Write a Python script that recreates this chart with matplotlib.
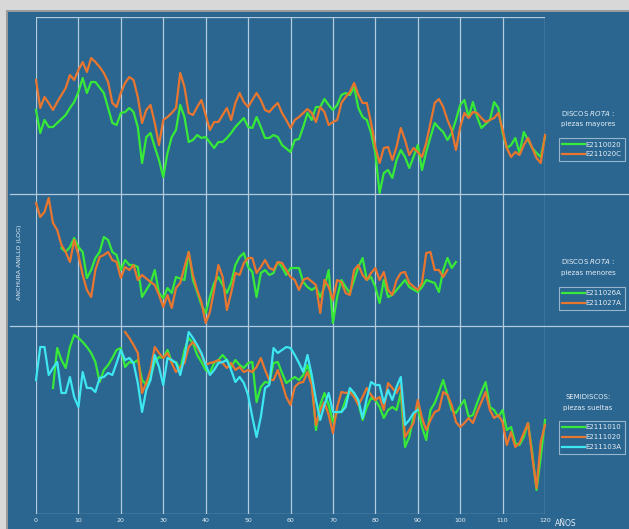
import matplotlib.pyplot as plt
from matplotlib.lines import Line2D
from matplotlib.patches import Rectangle

BG = "#2a6690"
GRID = "#b4cadd"
TXT = "#e6eef5"
GREEN = "#38ea38"
ORANGE = "#e9762f"
CYAN = "#3ee6f2"

# ring-width index (log), arbitrary units per panel
years_020 = [0, 1, 2, 3, 4, 5, 7, 8, 9, 10, 11, 12, 13, 14, 16, 17, 18, 19, 20, 21, 22, 23, 24, 25, 26, 27, 28, 29, 30,
             31, 32, 33, 34, 35, 36, 37, 38, 39, 40, 42, 43, 44, 45, 46, 47, 49, 50, 51, 52, 53, 54, 55, 56, 57, 58,
             60, 61, 62, 63, 64, 65, 66, 67, 68, 69, 70, 71, 72, 73, 74, 75, 76, 77, 78, 79, 80, 81, 82, 83, 84, 85,
             86, 87, 88, 89, 90, 91, 92, 93, 94, 95, 96, 97, 98, 99, 100, 101, 102, 103, 104, 105, 106, 107, 108, 109,
             110, 111, 112, 113, 114, 115, 116, 117, 118, 119, 120]
e2110020 = [84, 61, 74, 67, 67, 71, 79, 86, 92, 102, 116, 101, 112, 112, 101, 86, 71, 69, 81, 82, 86, 82, 67, 31, 57, 61,
            47, 34, 17, 41, 57, 64, 89, 77, 52, 54, 59, 56, 57, 46, 52, 52, 56, 61, 67, 76, 67, 66, 77, 67, 56, 56, 59,
            57, 49, 42, 54, 55, 67, 81, 74, 87, 87, 95, 89, 84, 89, 99, 101, 99, 107, 86, 77, 74, 61, 41, 1, 21, 24,
            16, 34, 44, 37, 26, 37, 49, 24, 42, 57, 71, 66, 62, 54, 61, 74, 89, 94, 77, 92, 77, 66, 70, 74, 92, 86, 61,
            46, 49, 56, 41, 62, 54, 46, 41, 37, 57]

years_20c = list(range(0, 121))
e211020c = [114, 86, 97, 91, 84, 92, 99, 106, 119, 114, 124, 132, 122, 136, 132, 127, 121, 112, 91, 87, 101, 111, 117,
            114, 97, 71, 84, 89, 71, 49, 74, 77, 81, 86, 121, 107, 81, 79, 87, 94, 79, 64, 72, 72, 79, 86, 74, 91, 101,
            92, 87, 94, 101, 94, 84, 82, 87, 91, 81, 74, 66, 74, 77, 81, 85, 81, 72, 87, 82, 69, 72, 74, 91, 97, 102,
            111, 99, 91, 91, 71, 47, 31, 46, 47, 34, 47, 66, 54, 39, 46, 42, 37, 51, 71, 91, 95, 87, 74, 64, 44, 67, 81,
            76, 82, 81, 76, 72, 74, 76, 81, 64, 46, 37, 42, 39, 49, 56, 46, 36, 31, 59]

years_026 = [6, 7, 8, 9, 10, 11, 12, 13, 14, 15, 16, 17, 18, 19, 20, 21, 22, 23, 24, 25, 27, 28, 29, 30, 31, 32, 33, 35,
             36, 37, 38, 39, 40, 41, 42, 43, 45, 46, 47, 48, 49, 50, 51, 52, 53, 54, 55, 56, 57, 58, 59, 60, 62, 63, 64,
             65, 66, 67, 68, 69, 70, 71, 72, 73, 74, 75, 76, 77, 78, 79, 80, 81, 82, 83, 84, 85, 86, 87, 88, 90, 91, 92,
             94, 95, 96, 97, 98, 99]
e211026a = [78, 74, 79, 88, 79, 74, 48, 56, 68, 74, 89, 86, 74, 71, 56, 66, 61, 61, 59, 29, 43, 56, 33, 28, 38, 33, 49,
            46, 74, 46, 34, 21, 13, 29, 43, 49, 33, 43, 61, 69, 73, 59, 54, 29, 53, 56, 51, 53, 64, 59, 51, 58, 58, 44,
            39, 36, 39, 29, 39, 56, 3, 29, 46, 39, 33, 46, 59, 68, 46, 49, 39, 23, 46, 29, 31, 36, 41, 46, 39, 34, 39,
            46, 43, 34, 56, 68, 58, 64]

years_027 = [0, 1, 2, 3, 4, 5, 6, 7, 8, 9, 10, 11, 12, 13, 14, 15, 16, 17, 18, 19, 20, 21, 22, 23, 24, 25, 27, 28, 29,
             30, 31, 32, 33, 34, 35, 36, 37, 38, 39, 40, 41, 42, 43, 44, 45, 46, 47, 48, 49, 50, 51, 52, 53, 54, 55, 56,
             57, 58, 59, 60, 61, 62, 63, 64, 66, 67, 68, 69, 70, 71, 72, 73, 74, 75, 76, 77, 78, 79, 80, 81, 82, 83, 84,
             85, 86, 87, 88, 90, 91, 92, 93, 94, 95, 96, 97]
e211027a = [123, 109, 114, 128, 103, 96, 81, 74, 64, 86, 71, 51, 36, 29, 56, 69, 71, 74, 66, 64, 48, 59, 56, 61, 46, 51,
            44, 41, 31, 19, 31, 18, 38, 43, 59, 74, 51, 36, 24, 3, 14, 36, 61, 49, 16, 33, 53, 51, 63, 68, 68, 53, 59,
            66, 58, 56, 64, 63, 56, 49, 46, 36, 46, 48, 41, 13, 46, 39, 26, 46, 44, 33, 31, 56, 61, 51, 46, 53, 58, 46,
            54, 36, 31, 46, 53, 54, 43, 36, 43, 73, 74, 56, 56, 49, 56]

years_1010 = list(range(4, 121))
e2111010 = [126, 166, 154, 146, 167, 179, 176, 172, 167, 161, 152, 132, 144, 149, 156, 164, 166, 147, 152, 151, 154,
            134, 129, 137, 152, 157, 156, 164, 152, 152, 144, 164, 176, 171, 159, 152, 144, 141, 151, 154, 159, 154,
            147, 154, 149, 146, 151, 152, 112, 127, 132, 131, 151, 152, 141, 131, 134, 137, 134, 139, 149, 134, 84,
            109, 121, 109, 92, 102, 102, 114, 124, 121, 111, 94, 107, 116, 114, 107, 96, 104, 107, 104, 121, 67, 77,
            97, 107, 87, 74, 104, 111, 122, 134, 119, 104, 101, 108, 114, 97, 99, 111, 122, 132, 107, 104, 97, 104,
            84, 87, 71, 69, 77, 91, 61, 24, 57, 94]

years_1020 = list(range(21, 121))
e2111020 = [182, 176, 169, 161, 121, 131, 144, 167, 161, 156, 161, 151, 142, 147, 151, 167, 172, 167, 159, 149, 151,
            152, 154, 151, 146, 151, 144, 147, 142, 144, 142, 147, 156, 144, 134, 134, 144, 131, 117, 109, 127, 131,
            132, 142, 129, 89, 104, 112, 99, 81, 107, 122, 121, 122, 117, 109, 117, 126, 119, 114, 117, 104, 131, 126,
            121, 129, 77, 84, 91, 114, 96, 84, 94, 102, 104, 122, 119, 109, 92, 87, 91, 96, 91, 102, 112, 122, 104,
            96, 99, 92, 69, 82, 67, 71, 81, 91, 57, 26, 72, 89]

years_103a = list(range(0, 91))
e211103a = [134, 167, 167, 139, 146, 152, 121, 121, 137, 117, 107, 142, 126, 126, 122, 136, 137, 141, 139, 151, 164,
            154, 156, 151, 131, 102, 124, 134, 159, 147, 129, 156, 154, 151, 139, 157, 182, 176, 169, 161, 149, 139,
            144, 151, 152, 154, 144, 132, 137, 131, 119, 97, 77, 97, 126, 129, 166, 161, 164, 167, 166, 159, 151, 142,
            159, 139, 114, 94, 109, 121, 102, 102, 102, 107, 126, 121, 114, 96, 116, 132, 129, 129, 111, 124, 114,
            127, 137, 89, 94, 101, 104]

decades = list(range(0, 121, 10))

panels = [
    ("DISCOS ", "ROTA", " :", "piezas mayores",
     [("E2110020", years_020, e2110020, GREEN), ("E211020C", years_20c, e211020c, ORANGE)], 177, 0.739),
    ("DISCOS ", "ROTA", " :", "piezas menores",
     [("E211026A", years_026, e211026a, GREEN), ("E211027A", years_027, e211027a, ORANGE)], 132, 0.4575),
    ("SEMIDISCOS:", "", "", "piezas sueltas",
     [("E2111010", years_1010, e2111010, GREEN), ("E2111020", years_1020, e2111020, ORANGE),
      ("E211103A", years_103a, e211103a, CYAN)], 188, 0.2042),
]

W, H = 629, 529
fig = plt.figure(figsize=(W / 100, H / 100), dpi=100, facecolor="#d8d8d8")
fig.add_artist(Rectangle((6 / W, 0), 1, 1 - 10 / H, transform=fig.transFigure,
                         facecolor="#9a9a9a", edgecolor="none", zorder=-3))
fig.add_artist(Rectangle((8 / W, 0), 1, 1 - 12 / H, transform=fig.transFigure,
                         facecolor=BG, edgecolor="none", zorder=-2))

left, right = 36 / W, 545 / W
edges = [17, 194, 326, 514]

for i, (t1, t2, t3, sub, series, ymax, leg_top) in enumerate(panels):
    top, bot = edges[i], edges[i + 1]
    ax = fig.add_axes([left, 1 - bot / H, right - left, (bot - top) / H])
    ax.set_facecolor("none")
    ax.set_xlim(0, 120)
    ax.set_ylim(0, ymax)
    for x in decades:
        ax.axvline(x, color=GRID, lw=0.9, zorder=1)
    for s in ax.spines.values():
        s.set_visible(False)
    ax.set_yticks([])
    handles = []
    for name, xs, ys, col in series:
        h, = ax.plot(xs, ys, color=col, lw=1.6, zorder=3, label=name, clip_on=False)
        handles.append(h)

    if i == 0:
        ax.axhline(ymax, color=GRID, lw=0.9)
    if i == 2:
        ax.axhline(0, color=GRID, lw=0.9)
        ax.set_xticks(decades)
        ax.tick_params(axis="x", length=0, pad=3, labelsize=4.5, labelcolor=TXT)
    else:
        ax.set_xticks([])

    # section title to the right of the plot
    yt = 1 - (leg_top * H - 0) / H
    ty = leg_top + (25 if i < 2 else 24) / H
    if t2:
        fig.text(588 / W, ty, f"{t1}$\\it{{{t2}}}${t3}", ha="center", va="center",
                 fontsize=5, color=TXT)
    else:
        fig.text(588 / W, ty, t1, ha="center", va="center", fontsize=5, color=TXT)
    fig.text(588 / W, ty - 11 / H, sub, ha="center", va="center", fontsize=5, color=TXT)

    leg = ax.legend(handles=handles, loc="upper left", bbox_to_anchor=(559 / W, leg_top),
                    bbox_transform=fig.transFigure, fontsize=5, frameon=True, fancybox=False,
                    handlelength=3.2, handletextpad=0.1, borderpad=0.5, labelspacing=0.55,
                    borderaxespad=0)
    leg.get_frame().set_facecolor(BG)
    leg.get_frame().set_edgecolor(GRID)
    leg.get_frame().set_linewidth(0.8)
    for t in leg.get_texts():
        t.set_color(TXT)

# section dividers across the whole panel
for y in (194, 326):
    fig.add_artist(Line2D([10 / W, 1], [1 - y / H, 1 - y / H], transform=fig.transFigure,
                          color=GRID, lw=0.9))

fig.text(20 / W, 1 - 262 / H, "ANCHURA ANILLO (LOG)", rotation=90, ha="center", va="center",
         fontsize=4.5, color=TXT)
fig.text(566 / W, 1 - 523 / H, "AÑOS", ha="center", va="center", fontsize=5.5, color=TXT)

fig.savefig("out.png", dpi=100, facecolor=fig.get_facecolor())
